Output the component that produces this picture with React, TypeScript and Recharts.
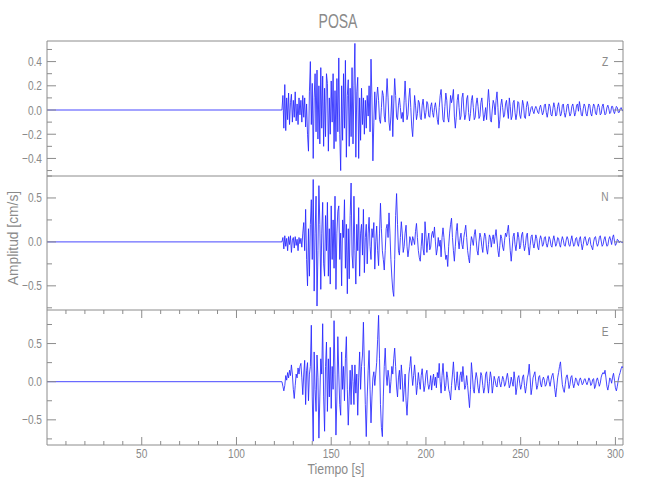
import { LineChart, Line, XAxis, YAxis, ReferenceLine } from 'recharts';

// sampling of the traces (seconds)
const ONSET = 124;
const DT = 0.5;

const X_DOMAIN: [number, number] = [0, 304];
const X_TICKS = [
  10, 20, 30, 40, 50, 60, 70, 80, 90, 100, 110, 120, 130, 140, 150,
  160, 170, 180, 190, 200, 210, 220, 230, 240, 250, 260, 270, 280, 290, 300,
];
const X_MAJOR = [50, 100, 150, 200, 250, 300];

// vertical component, cm/s, one row = 10 s from ONSET
const Z = [
  0.00, 0.12, -0.15, 0.21, -0.17, 0.10, -0.08, 0.14, -0.12, 0.06, 0.13, -0.10, 0.08, -0.06, 0.15, -0.09, 0.05, -0.12, 0.10, -0.04,
  0.08, -0.10, 0.12, -0.06, 0.10, -0.14, 0.05, -0.20, -0.34, 0.15, 0.40, -0.12, 0.22, -0.40, 0.10, 0.30, -0.18, 0.33, -0.24, 0.20,
  -0.28, 0.35, -0.15, 0.28, -0.30, 0.18, -0.22, 0.30, 0.22, -0.34, 0.10, -0.20, 0.24, -0.10, 0.30, -0.32, 0.16, -0.26, 0.26, -0.18,
  0.43, -0.20, -0.50, 0.20, -0.25, 0.30, -0.15, 0.41, -0.39, 0.12, 0.25, -0.30, 0.18, -0.22, 0.35, -0.28, 0.20, 0.55, -0.39, 0.15,
  0.27, -0.40, 0.10, -0.25, 0.18, -0.12, 0.10, -0.20, 0.08, -0.15, 0.12, -0.05, 0.20, -0.18, 0.42, 0.10, -0.42, -0.10, 0.15, -0.08,
  0.10, 0.19, 0.08, -0.08, -0.11, 0.02, 0.16, 0.12, -0.05, -0.10, 0.10, 0.26, 0.10, -0.10, -0.17, -0.05, 0.12, -0.22, 0.05, 0.26,
  0.12, -0.06, -0.08, 0.04, 0.10, 0.02, -0.07, -0.02, -0.10, 0.08, 0.24, 0.06, -0.08, -0.04, 0.10, 0.18, 0.02, -0.14, -0.22, -0.05,
  0.12, 0.04, -0.08, -0.03, 0.08, 0.06, -0.06, -0.08, 0.04, 0.09, 0.00, -0.07, -0.02, 0.07, 0.05, -0.05, -0.06, 0.03, 0.06, -0.02,
  -0.06, 0.02, 0.06, 0.00, -0.08, -0.12, 0.02, 0.12, 0.17, 0.05, -0.08, -0.10, 0.03, 0.14, 0.08, -0.06, -0.10, 0.00, 0.12, 0.06,
  0.10, 0.17, -0.05, -0.15, -0.06, 0.08, 0.13, 0.02, -0.08, -0.05, 0.10, 0.14, 0.00, -0.08, -0.04, 0.09, 0.12, -0.02, -0.09, -0.03,
  0.08, 0.12, 0.02, -0.08, -0.06, 0.05, 0.10, 0.03, -0.07, -0.05, 0.06, 0.10, 0.00, -0.09, -0.04, 0.02, -0.08, 0.05, 0.17, 0.06,
  -0.08, -0.10, 0.00, 0.08, 0.05, -0.04, 0.08, 0.15, 0.02, -0.15, -0.08, 0.04, 0.09, 0.02, -0.06, -0.04, 0.05, 0.08, 0.00, -0.07,
  0.10, 0.03, -0.08, -0.05, 0.06, 0.08, -0.02, -0.08, -0.03, 0.07, 0.06, -0.04, -0.07, 0.00, 0.08, 0.04, -0.06, -0.07, 0.02, 0.07,
  0.03, -0.05, -0.02, 0.02, 0.03, -0.01, -0.03, 0.01, 0.03, 0.01, -0.02, -0.03, 0.02, 0.04, 0.00, -0.04, -0.02, 0.04, 0.05, -0.02,
  -0.06, -0.01, 0.05, 0.03, -0.04, -0.05, 0.01, 0.06, 0.02, -0.05, -0.04, 0.03, 0.06, 0.00, -0.05, -0.03, 0.04, 0.05, -0.02, -0.06,
  -0.02, 0.04, 0.05, -0.01, -0.05, -0.03, 0.03, 0.05, 0.00, -0.05, -0.02, 0.04, 0.05, -0.01, 0.07, 0.02, -0.04, -0.05, 0.01, 0.05,
  0.03, -0.03, -0.05, 0.00, 0.05, 0.04, -0.03, -0.05, 0.01, 0.05, 0.03, -0.03, -0.04, 0.02, 0.05, 0.02, -0.04, -0.03, 0.03, 0.05,
  0.00, -0.04, -0.03, 0.02, 0.04, 0.01, -0.03, -0.02, 0.03, 0.03, -0.01, -0.03, 0.00, 0.03, 0.02, -0.02, -0.02, 0.01, 0.02, 0.00, -0.01,
];

// north component
const N = [
  0.00, 0.05, -0.08, 0.07, -0.05, 0.04, -0.10, 0.06, -0.03, 0.07, -0.12, 0.02, 0.05, -0.07, 0.06, -0.04, 0.03, -0.10, 0.05, -0.02,
  0.04, -0.06, 0.10, 0.22, -0.10, 0.37, -0.20, -0.50, 0.15, -0.39, 0.20, 0.48, -0.20, 0.71, -0.56, 0.10, 0.52, -0.73, -0.10, 0.64,
  0.20, -0.54, 0.10, 0.45, -0.25, -0.39, 0.30, -0.10, 0.45, -0.39, 0.15, -0.48, 0.41, -0.20, 0.25, -0.30, 0.52, -0.54, 0.10, 0.35,
  0.41, -0.20, 0.10, -0.50, 0.25, 0.05, 0.48, -0.30, 0.20, -0.59, 0.15, -0.42, 0.30, 0.67, -0.15, -0.30, 0.52, -0.10, -0.48, 0.20,
  -0.10, 0.39, -0.39, 0.10, 0.20, -0.15, 0.37, -0.35, 0.05, 0.20, -0.25, 0.10, 0.28, -0.05, -0.20, 0.15, 0.05, 0.22, -0.31, 0.00,
  0.18, -0.10, -0.27, 0.10, 0.44, 0.15, -0.10, -0.20, -0.32, -0.10, 0.15, 0.20, 0.05, 0.33, 0.10, -0.20, -0.40, -0.55, -0.62, -0.20,
  0.30, 0.55, 0.20, -0.10, -0.15, 0.05, 0.23, 0.10, -0.12, -0.05, 0.10, 0.19, -0.05, -0.17, -0.08, 0.06, 0.02, -0.04, 0.06, 0.02,
  -0.03, 0.12, 0.21, 0.05, -0.10, -0.18, -0.22, -0.05, 0.10, -0.08, -0.15, 0.23, 0.08, -0.12, 0.02, 0.10, -0.09, -0.06, 0.08, 0.12,
  0.05, 0.17, 0.00, -0.15, -0.08, 0.05, -0.05, 0.02, -0.17, 0.05, 0.16, 0.05, -0.10, -0.20, -0.15, -0.28, -0.05, 0.10, 0.20, 0.27,
  0.05, -0.10, -0.22, -0.05, 0.12, 0.21, 0.02, -0.08, 0.04, 0.10, -0.03, -0.08, 0.05, 0.12, 0.19, 0.05, -0.10, -0.18, -0.24, -0.05,
  0.06, 0.02, -0.04, 0.08, 0.14, 0.02, -0.10, -0.15, 0.00, 0.10, 0.05, -0.05, -0.12, 0.02, 0.10, 0.06, -0.08, -0.14, -0.03, 0.08,
  0.05, -0.06, 0.03, 0.08, -0.02, 0.06, 0.14, 0.02, -0.10, -0.17, -0.04, 0.08, 0.04, -0.06, -0.10, 0.02, 0.10, 0.06, 0.12, 0.19,
  0.05, -0.10, -0.22, -0.08, 0.06, 0.10, -0.03, -0.10, 0.00, 0.11, 0.05, -0.08, -0.04, 0.08, 0.11, -0.02, -0.10, -0.04, 0.07, 0.10,
  -0.05, -0.15, -0.04, 0.06, 0.08, -0.02, -0.07, 0.00, 0.08, 0.04, -0.06, -0.09, 0.02, 0.07, 0.03, -0.05, -0.03, 0.05, 0.06, -0.02,
  -0.06, -0.01, 0.06, 0.03, -0.04, -0.06, 0.02, 0.07, 0.01, -0.05, -0.02, 0.05, 0.04, -0.03, -0.06, 0.01, 0.06, 0.02, -0.04, -0.05,
  0.02, 0.06, 0.03, -0.04, -0.05, 0.02, 0.07, 0.00, -0.05, -0.03, 0.04, 0.05, -0.02, -0.05, 0.03, 0.06, -0.02, -0.09, -0.03, 0.04,
  0.06, 0.01, -0.04, -0.02, 0.04, 0.05, -0.03, -0.06, -0.09, 0.00, 0.05, 0.06, -0.01, -0.05, -0.02, 0.05, 0.07, 0.01, -0.05, -0.03,
  0.03, 0.06, 0.00, -0.05, -0.04, 0.03, 0.06, 0.02, -0.03, 0.05, 0.08, 0.01, -0.04, -0.02, 0.03, 0.02, -0.01, 0.01, 0.00, -0.01, 0.00,
];

// east component
const E = [
  0.00, -0.06, -0.12, -0.05, 0.08, 0.02, 0.12, 0.05, 0.15, 0.08, 0.22, 0.10, -0.10, -0.22, -0.05, 0.10, 0.05, 0.18, 0.10, 0.20,
  0.24, 0.05, -0.17, 0.10, 0.28, -0.30, 0.15, 0.25, -0.25, 0.10, 0.20, 0.74, -0.20, -0.78, 0.39, -0.10, -0.39, 0.35, 0.05, -0.74,
  -0.20, 0.30, 0.10, 0.76, -0.20, -0.65, 0.20, 0.52, -0.39, 0.30, -0.20, 0.45, -0.35, 0.20, -0.10, 0.80, 0.10, -0.70, -0.20, 0.59,
  0.10, -0.30, -0.44, 0.39, -0.10, 0.20, -0.25, 0.30, 0.59, -0.10, -0.57, -0.20, 0.15, -0.30, 0.22, 0.00, -0.30, 0.22, -0.15, 0.10,
  -0.44, 0.05, 0.39, -0.10, 0.20, 0.35, 0.78, 0.20, -0.30, -0.72, -0.20, 0.15, 0.41, -0.10, -0.54, -0.20, 0.05, 0.13, -0.05, 0.10,
  0.25, 0.55, 0.87, 0.30, -0.30, -0.60, -0.72, -0.20, 0.20, 0.44, 0.10, -0.05, 0.15, 0.05, -0.15, 0.00, 0.20, 0.10, 0.30, 0.44,
  0.20, -0.07, -0.20, 0.05, 0.15, -0.10, 0.22, 0.05, -0.26, -0.10, 0.10, -0.25, -0.44, -0.20, 0.10, 0.20, 0.33, 0.10, -0.05, 0.08,
  0.22, 0.05, -0.17, -0.05, 0.12, 0.00, -0.10, 0.08, 0.17, 0.02, -0.13, -0.05, 0.10, 0.15, -0.02, -0.10, -0.04, 0.08, -0.11, 0.02,
  0.10, -0.05, 0.06, -0.08, 0.12, 0.05, 0.24, 0.00, -0.15, 0.08, 0.24, 0.05, -0.12, -0.05, 0.13, 0.05, -0.10, -0.15, -0.24, -0.05,
  0.10, 0.26, 0.05, -0.11, -0.02, 0.13, -0.05, -0.11, 0.08, 0.13, 0.00, 0.20, 0.05, -0.10, -0.05, 0.08, -0.05, -0.20, -0.34, -0.10,
  0.25, 0.10, -0.10, -0.15, 0.02, 0.12, 0.05, -0.08, -0.15, -0.02, 0.12, 0.08, -0.05, -0.15, -0.08, 0.10, 0.13, -0.02, -0.15, 0.00,
  0.13, 0.05, -0.15, -0.05, 0.07, 0.02, -0.05, -0.07, 0.04, 0.07, -0.02, -0.07, 0.00, 0.07, 0.03, -0.06, -0.03, 0.05, 0.11, 0.02,
  -0.08, -0.04, 0.06, 0.00, -0.06, 0.13, 0.02, -0.17, -0.08, 0.05, 0.08, -0.02, -0.10, -0.04, 0.06, 0.09, -0.05, -0.15, -0.06, 0.05,
  0.10, 0.23, 0.05, -0.17, -0.08, 0.05, 0.09, 0.13, 0.00, -0.10, -0.05, 0.06, 0.08, -0.03, -0.07, 0.02, 0.06, 0.02, -0.06, -0.04,
  0.04, 0.08, 0.00, -0.06, 0.02, 0.08, 0.11, 0.02, -0.10, -0.20, -0.08, 0.05, 0.12, 0.20, 0.26, 0.10, -0.04, -0.10, -0.14, -0.04,
  0.06, 0.09, 0.02, -0.09, -0.04, 0.06, 0.08, -0.02, -0.08, -0.02, 0.05, 0.03, -0.03, -0.05, 0.02, 0.05, 0.01, -0.04, -0.02, 0.03,
  0.04, -0.01, -0.04, 0.00, 0.05, 0.02, -0.05, -0.03, 0.03, 0.04, -0.09, -0.06, 0.02, 0.05, 0.00, -0.06, -0.02, 0.06, 0.10, 0.12,
  0.10, 0.15, 0.05, -0.06, -0.11, -0.04, 0.05, 0.03, -0.02, 0.06, 0.11, 0.02, -0.08, -0.12, -0.06, 0.02, 0.08, 0.12, 0.17, 0.20, 0.18,
];

const Z_DOMAIN: [number, number] = [-0.545, 0.57];
const Z_TICKS = [-0.5, -0.4, -0.3, -0.2, -0.1, 0, 0.1, 0.2, 0.3, 0.4, 0.5];
const Z_MAJOR = [-0.4, -0.2, 0, 0.2, 0.4];

const N_DOMAIN: [number, number] = [-0.775, 0.75];
const N_TICKS = [-0.75, -0.5, -0.25, 0, 0.25, 0.5, 0.75];
const N_MAJOR = [-0.5, 0, 0.5];

const E_DOMAIN: [number, number] = [-0.83, 0.94];
const E_TICKS = [-0.75, -0.5, -0.25, 0, 0.25, 0.5, 0.75];
const E_MAJOR = [-0.5, 0, 0.5];

const data = [
  { t: 0, z: 0, n: 0, e: 0 },
  ...Z.map((z, i) => ({ t: ONSET + i * DT, z, n: N[i], e: E[i] })),
];

const TRACE = '#2626ff';
const AXIS = '#8c8c8c';
const TEXT = '#8a8a8a';
const FONT = "'Liberation Sans', Arial, sans-serif";

const PLOT_L = 47;
const PLOT_R = 623;

const fmtY = (v: number) => {
  const s = v.toFixed(1);
  return v < 0 ? '\u2212' + s.slice(1) : s;
};

// narrowed text (the original uses a tall, thin plotting font)
const NText = ({ x, y, size, anchor = 'middle', rotate = 0, squeeze = 0.78, children }: any) => (
  <text
    transform={`translate(${x} ${y}) rotate(${rotate}) scale(${squeeze} 1)`}
    textAnchor={anchor}
    fontSize={size}
    fill={TEXT}
    fontFamily={FONT}
  >
    {children}
  </text>
);

const YTick = ({ y, payload, majors }: any) => {
  const major = majors.includes(payload.value);
  const len = major ? 9 : 5;
  return (
    <g>
      <line x1={PLOT_L} x2={PLOT_L + len} y1={y} y2={y} stroke={AXIS} />
      <line x1={PLOT_R - len} x2={PLOT_R} y1={y} y2={y} stroke={AXIS} />
      {major && (
        <NText x={PLOT_L - 5} y={y + 4.5} size={13} anchor="end">
          {fmtY(payload.value)}
        </NText>
      )}
    </g>
  );
};

const XTick = ({ x, payload, top, bottom, labels }: any) => {
  const major = X_MAJOR.includes(payload.value);
  const len = major ? 8 : 4;
  return (
    <g>
      <line x1={x} x2={x} y1={bottom} y2={bottom - len} stroke={AXIS} />
      <line x1={x} x2={x} y1={top} y2={top + len} stroke={AXIS} />
      {labels && major && (
        <NText x={x} y={bottom + 13} size={13}>
          {payload.value}
        </NText>
      )}
    </g>
  );
};

function Panel({ top, height, dataKey, domain, ticks, majors, labels }: any) {
  const below = labels ? 40 : 1;
  return (
    <div style={{ position: 'absolute', left: 0, top: top - 1 }}>
      <LineChart
        width={650}
        height={height + 1 + below}
        data={data}
        margin={{ top: 1, right: 650 - PLOT_R, bottom: labels ? 0 : 1, left: 0 }}
      >
        <XAxis
          type="number"
          dataKey="t"
          domain={X_DOMAIN}
          ticks={X_TICKS}
          interval={0}
          allowDataOverflow
          height={labels ? 40 : 0}
          axisLine={{ stroke: AXIS }}
          tickLine={false}
          tick={(p: any) => <XTick {...p} top={1} bottom={1 + height} labels={labels} />}
        />
        <YAxis
          type="number"
          domain={domain}
          ticks={ticks}
          interval={0}
          allowDataOverflow
          width={PLOT_L}
          axisLine={{ stroke: AXIS }}
          tickLine={false}
          tick={(p: any) => <YTick {...p} majors={majors} />}
        />
        <ReferenceLine y={domain[1]} stroke={AXIS} />
        <ReferenceLine x={X_DOMAIN[1]} stroke={AXIS} />
        <Line
          type="linear"
          dataKey={dataKey}
          stroke={TRACE}
          strokeWidth={0.85}
          dot={false}
          isAnimationActive={false}
        />
      </LineChart>
    </div>
  );
}

export default function App() {
  return (
    <div style={{ position: 'absolute', left: 0, top: 0, width: 650, height: 500, background: '#fff' }}>
      <Panel top={41} height={135} dataKey="z" domain={Z_DOMAIN} ticks={Z_TICKS} majors={Z_MAJOR} />
      <Panel top={176} height={134} dataKey="n" domain={N_DOMAIN} ticks={N_TICKS} majors={N_MAJOR} />
      <Panel top={310} height={135} dataKey="e" domain={E_DOMAIN} ticks={E_TICKS} majors={E_MAJOR} labels />
      <svg width={650} height={500} style={{ position: 'absolute', left: 0, top: 0, pointerEvents: 'none' }}>
        <NText x={338} y={28} size={20} squeeze={0.7}>POSA</NText>
        <NText x={605} y={66} size={13}>Z</NText>
        <NText x={605} y={201} size={13}>N</NText>
        <NText x={605} y={336} size={13}>E</NText>
        <NText x={336} y={474} size={14} squeeze={0.88}>Tiempo  [s]</NText>
        <NText x={18} y={238} size={15} squeeze={0.92} rotate={-90}>Amplitud  [cm/s]</NText>
      </svg>
    </div>
  );
}
